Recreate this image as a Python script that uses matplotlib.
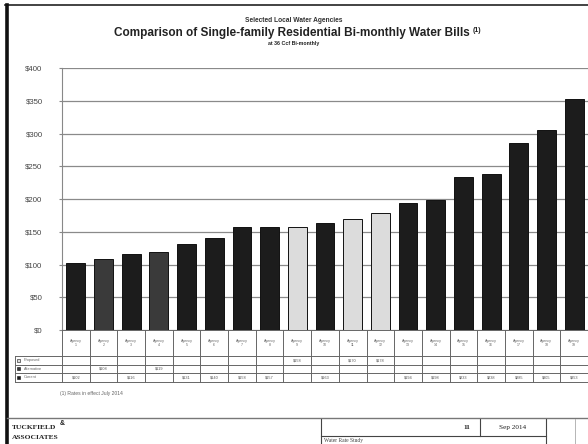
import matplotlib.pyplot as plt
import matplotlib.patches as mpatches
import numpy as np

# bill amounts, sorted low -> high
bills = [102, 108, 116, 119, 131, 140, 158, 157, 158, 163,
         170, 178, 194, 198, 233, 238, 285, 305, 353]
# which table row (series) each bar belongs to: 0 light, 1 gray, 2 black
series = [2, 1, 2, 1, 2, 2, 2, 2, 0, 2,
          0, 0, 2, 2, 2, 2, 2, 2, 2]
agencies = ["Agency\n1", "Agency\n2", "Agency\n3", "Agency\n4", "Agency\n5",
            "Agency\n6", "Agency\n7", "Agency\n8", "Agency\n9", "Agency\n10",
            "Agency\n11", "Agency\n12", "Agency\n13", "Agency\n14", "Agency\n15",
            "Agency\n16", "Agency\n17", "Agency\n18", "Agency\n19"]
series_names = ["Proposed", "Alternative", "Current"]
yticks = np.arange(0, 401, 50)
ytick_labels = [f"${v}" for v in yticks]

face = ['#dcdcdc', '#3a3a3a', '#1c1c1c']

W, H = 588, 444
fig = plt.figure(figsize=(W / 100, H / 100), dpi=100)
plt.rcParams['font.family'] = ['Liberation Sans', 'DejaVu Sans']

def fx(px):
    return px / W

def fy(py):
    return 1 - py / H

# page frame
fig.add_artist(plt.Line2D([fx(5), fx(588)], [fy(5), fy(5)], color='#222222', lw=1.2))
fig.add_artist(plt.Line2D([fx(6.5), fx(6.5)], [fy(5), fy(444)], color='#111111', lw=2.6))
fig.add_artist(plt.Line2D([fx(7), fx(588)], [fy(418), fy(418)], color='#777777', lw=1.0))

# titles
fig.text(0.5, fy(21), "Selected Local Water Agencies", ha='center', va='center',
         fontsize=4.8, fontweight='bold', color='#333333')
t = fig.text(0.497, fy(33), "Comparison of Single-family Residential Bi-monthly Water Bills",
             ha='center', va='center', fontsize=8.5, fontweight='bold', color='#222222')
fig.text(0.5, fy(44), "at 36 Ccf Bi-monthly", ha='center', va='center',
         fontsize=3.8, fontweight='bold', color='#222222')

# main axes
x0, x1, ytop, ybot = 62, 588, 68, 330
ax = fig.add_axes([fx(x0), fy(ybot), fx(x1 - x0), (ybot - ytop) / H])
n = len(bills)
x = np.arange(n)
ax.bar(x, bills, width=0.68, color=[face[s] for s in series],
       edgecolor='#111111', linewidth=0.7, zorder=3)
ax.set_xlim(-0.5, n - 0.5)
ax.set_ylim(0, 400)
ax.set_yticks(yticks)
ax.set_yticklabels(ytick_labels, fontsize=5.6, color='#444444')
ax.tick_params(axis='y', length=2, color='#888888', pad=12)
ax.set_xticks([])
ax.yaxis.grid(True, color='#8a8a8a', lw=0.9)
ax.set_axisbelow(True)
for s in ['top', 'right', 'bottom']:
    ax.spines[s].set_visible(False)
ax.spines['left'].set_color('#888888')
ax.spines['left'].set_linewidth(0.8)
ax.annotate("(1)", xy=(1, 0.75), xycoords=t, xytext=(1.5, 0), textcoords='offset points',
            fontsize=5, fontweight='bold', color='#222222', va='center',
            annotation_clip=False)

# data table below the bars
col_w = (x1 - x0) / n
row_y = [330, 356, 364.5, 373, 381.5]
tc = '#666666'
for yy in row_y:
    xs = x0 if yy == row_y[0] else 15
    fig.add_artist(plt.Line2D([fx(xs), fx(x1)], [fy(yy), fy(yy)], color=tc, lw=0.7))
for i in range(n + 1):
    xx = x0 + i * col_w
    fig.add_artist(plt.Line2D([fx(xx), fx(xx)], [fy(row_y[0]), fy(row_y[-1])], color=tc, lw=0.7))
fig.add_artist(plt.Line2D([fx(15), fx(15)], [fy(row_y[1]), fy(row_y[-1])], color=tc, lw=0.7))

for i, name in enumerate(agencies):
    cx = x0 + (i + 0.5) * col_w
    fig.text(fx(cx), fy(343), name, ha='center', va='center', fontsize=2.6,
             color='#666666', linespacing=1.1)
    r = series[i]
    cy = (row_y[r + 1] + row_y[r + 2]) / 2
    fig.text(fx(cx), fy(cy), f"${bills[i]}", ha='center', va='center',
             fontsize=2.8, color='#555555')

for r, name in enumerate(series_names):
    cy = (row_y[r + 1] + row_y[r + 2]) / 2
    fig.add_artist(mpatches.Rectangle((fx(17), fy(cy) - 1.6 / H), 3.2 / W, 3.2 / H,
                                      facecolor=face[r], edgecolor='#111111', lw=0.4))
    fig.text(fx(24), fy(cy), name, ha='left', va='center', fontsize=2.8, color='#666666')

fig.text(fx(60), fy(393), "(1) Rates in effect July 2014", ha='left', va='center',
         fontsize=3.6, color='#666666')

# footer
fig.text(fx(12), fy(427), "TUCKFIELD", ha='left', va='center', fontsize=5.4,
         fontweight='bold', color='#222222', family='Liberation Serif')
fig.text(fx(12), fy(437), "ASSOCIATES", ha='left', va='center', fontsize=5.4,
         fontweight='bold', color='#222222', family='Liberation Serif')
fig.text(fx(60), fy(423.5), "&", ha='left', va='center', fontsize=5,
         fontweight='bold', color='#222222')

fig.add_artist(plt.Line2D([fx(321), fx(321)], [fy(419), fy(444)], color='#444444', lw=0.8))
fig.add_artist(plt.Line2D([fx(480), fx(480)], [fy(419), fy(436)], color='#444444', lw=0.8))
fig.add_artist(plt.Line2D([fx(546), fx(546)], [fy(419), fy(444)], color='#444444', lw=0.8))
fig.add_artist(plt.Line2D([fx(321), fx(546)], [fy(436), fy(436)], color='#444444', lw=0.8))
fig.add_artist(plt.Line2D([fx(575), fx(575)], [fy(419), fy(444)], color='#aaaaaa', lw=0.6))
fig.text(fx(470), fy(427.5), "11", ha='right', va='center', fontsize=5.2,
         color='#222222', family='Liberation Serif', fontweight='bold')
fig.text(fx(513), fy(427.5), "Sep 2014", ha='center', va='center', fontsize=5.2,
         color='#222222', family='Liberation Serif')
fig.text(fx(324), fy(440.5), "Water Rate Study", ha='left', va='center', fontsize=4,
         color='#444444', family='Liberation Serif')

fig.savefig('out.png', dpi=100)
